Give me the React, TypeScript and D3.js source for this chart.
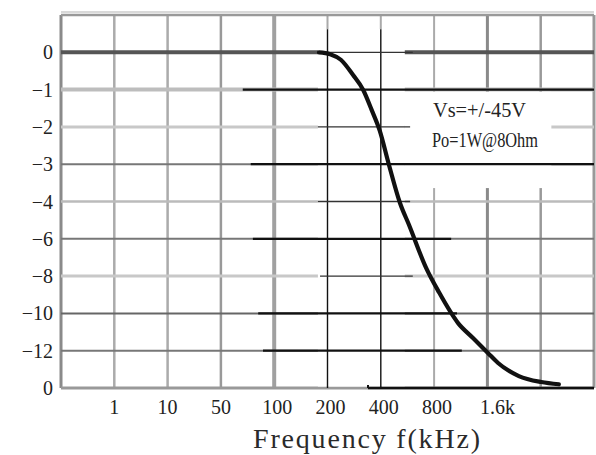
import React from "react";
import * as d3 from "d3";

// Axis labels
const levelLabels = ["0", "−1", "−2", "−3", "−4", "−6", "−8", "−10", "−12", "0"];
const freqLabels = ["1", "10", "50", "100", "200", "400", "800", "1.6k"];

// Response curve, expressed in grid positions (frequency column, level row)
const curveFreqPos = [4.84, 5.05, 5.25, 5.48, 5.67, 5.83, 5.98, 6.15, 6.36, 6.53, 6.85, 7.09, 7.45, 7.73, 8.01, 8.2, 8.59, 9.01, 9.34];
const curveLevelPos = [0, 0.05, 0.2, 0.61, 1.01, 1.55, 2.1, 3.0, 4.04, 4.63, 5.78, 6.43, 7.26, 7.66, 8.06, 8.33, 8.68, 8.84, 8.9];

// Gray grid styling (columns 0..10, rows -1..9)
const colStyles = [
  { c: "#8a8a8a", w: 3 }, { c: "#ababab", w: 2.5 }, { c: "#ababab", w: 2.5 }, { c: "#999", w: 2.5 },
  { c: "#a0a0a0", w: 4 }, { c: "#aaa", w: 2 }, { c: "#aaa", w: 2 }, { c: "#aaa", w: 2 },
  { c: "#8a8a8a", w: 3 }, { c: "#999", w: 2.5 }, { c: "#999", w: 3 },
];
const rowStyles = [
  { c: "#999", w: 2.5 }, { c: "#555", w: 4 }, { c: "#bdbdbd", w: 4 }, { c: "#c8c8c8", w: 3 },
  { c: "#777", w: 2 }, { c: "#bbb", w: 2.5 }, { c: "#777", w: 2 }, { c: "#c8c8c8", w: 3 },
  { c: "#666", w: 2 }, { c: "#777", w: 2 }, { c: "#999", w: 3 },
];

// Black overlay rules: [row, fromCol, toCol, width]
const blackRules = [
  [0, 4.82, 6.6, 1.3], [1, 3.41, 10, 2.2], [2, 4.82, 6.55, 1.3], [3, 3.56, 10, 2.2],
  [4, 4.82, 6.55, 1.3], [5, 3.6, 7.32, 2.2], [6, 4.86, 6.6, 1.3], [7, 3.7, 7.43, 2.2],
  [8, 3.79, 7.52, 2.2], [9, 5.76, 10, 2.6],
];

const W = 596;
const H = 455;

export default function App() {
  const x = d3.scaleLinear().domain([0, 10]).range([61, 594]);
  const y = d3.scaleLinear().domain([-1, 9]).range([15, 388]);

  const curve = d3
    .line<number>()
    .x((_, i) => x(curveFreqPos[i]))
    .y((_, i) => y(curveLevelPos[i]))
    .curve(d3.curveMonotoneX);

  const rows = d3.range(-1, 10);
  const cols = d3.range(0, 11);

  return (
    <svg
      width={W}
      height={H}
      viewBox={`0 0 ${W} ${H}`}
      style={{ position: "absolute", left: 0, top: 0, background: "#fff" }}
    >
      <defs>
        <filter id="soft" x="-5%" y="-5%" width="110%" height="110%">
          <feGaussianBlur stdDeviation="0.7" />
        </filter>
      </defs>
      <rect width={W} height={H} fill="#fff" />

      {/* faint residue along the top */}
      <line x1={x(0) + 2} x2={x(10)} y1={6} y2={6} stroke="#ddd" strokeWidth={4} strokeDasharray="6 3 10 2" filter="url(#soft)" />

      {/* gray grid */}
      <g filter="url(#soft)">
        {cols.map((c) => (
          <line key={`c${c}`} x1={x(c)} x2={x(c)} y1={y(-1)} y2={y(9)} stroke={colStyles[c].c} strokeWidth={colStyles[c].w} />
        ))}
        {rows.map((r, i) => (
          <line key={`r${r}`} x1={x(0)} x2={x(10)} y1={y(r)} y2={y(r)} stroke={rowStyles[i].c} strokeWidth={rowStyles[i].w} />
        ))}
        <line x1={x(0)} x2={x(10)} y1={y(-1) - 3} y2={y(-1) - 3} stroke="#ccc" strokeWidth={1.5} />
      </g>

      {/* cleared panels */}
      <rect x={x(4.82)} y={y(-0.62)} width={x(6.45) - x(4.82)} height={y(9) - y(-0.62) - 1.5} fill="#fff" />
      <rect x={x(6.45)} y={y(1.06)} width={x(9.2) - x(6.45)} height={y(3.64) - y(1.06)} fill="#fff" />

      {/* thin black column rules */}
      {[5, 6].map((c) => (
        <line key={`bc${c}`} x1={x(c)} x2={x(c)} y1={y(-0.62)} y2={y(9)} stroke="#111" strokeWidth={1.4} />
      ))}

      {/* black row rules */}
      {blackRules.map(([r, a, b, w], i) => (
        <line key={`br${i}`} x1={x(a)} x2={x(b)} y1={y(r)} y2={y(r)} stroke={w < 2 ? "#333" : "#111"} strokeWidth={w} />
      ))}
      <line x1={x(5.76)} x2={x(5.76)} y1={y(9) - 3} y2={y(9)} stroke="#111" strokeWidth={2} />

      {/* response curve */}
      <path d={curve(curveFreqPos) || ""} fill="none" stroke="#111" strokeWidth={4.2} strokeLinejoin="round" strokeLinecap="round" />

      {/* level labels */}
      <g fontFamily="'Liberation Serif', serif" fontSize={20} fill="#222">
        {levelLabels.map((t, i) => (
          <text key={`l${i}`} x={53} y={y(i)} dy="0.35em" textAnchor="end">
            {t}
          </text>
        ))}
      </g>

      {/* frequency labels */}
      <g fontFamily="'Liberation Serif', serif" fontSize={20} fill="#222">
        {freqLabels.map((t, i) => (
          <text key={`f${i}`} x={x(i + 1) + (i === 7 ? 10 : i >= 3 ? 3 : 0)} y={414} textAnchor="middle">
            {t}
          </text>
        ))}
      </g>

      {/* axis title */}
      <text x={253} y={448} fontFamily="'Liberation Serif', serif" fontSize={28} fill="#2a2a2a" textLength={227} lengthAdjust="spacing">
        Frequency f(kHz)
      </text>

      {/* test conditions */}
      <g fontFamily="'Liberation Serif', serif" fontSize={21} fill="#222">
        <text x={433} y={117} textLength={93} lengthAdjust="spacingAndGlyphs">Vs=+/-45V</text>
        <text x={432} y={147} textLength={106} lengthAdjust="spacingAndGlyphs">Po=1W@8Ohm</text>
      </g>
    </svg>
  );
}
